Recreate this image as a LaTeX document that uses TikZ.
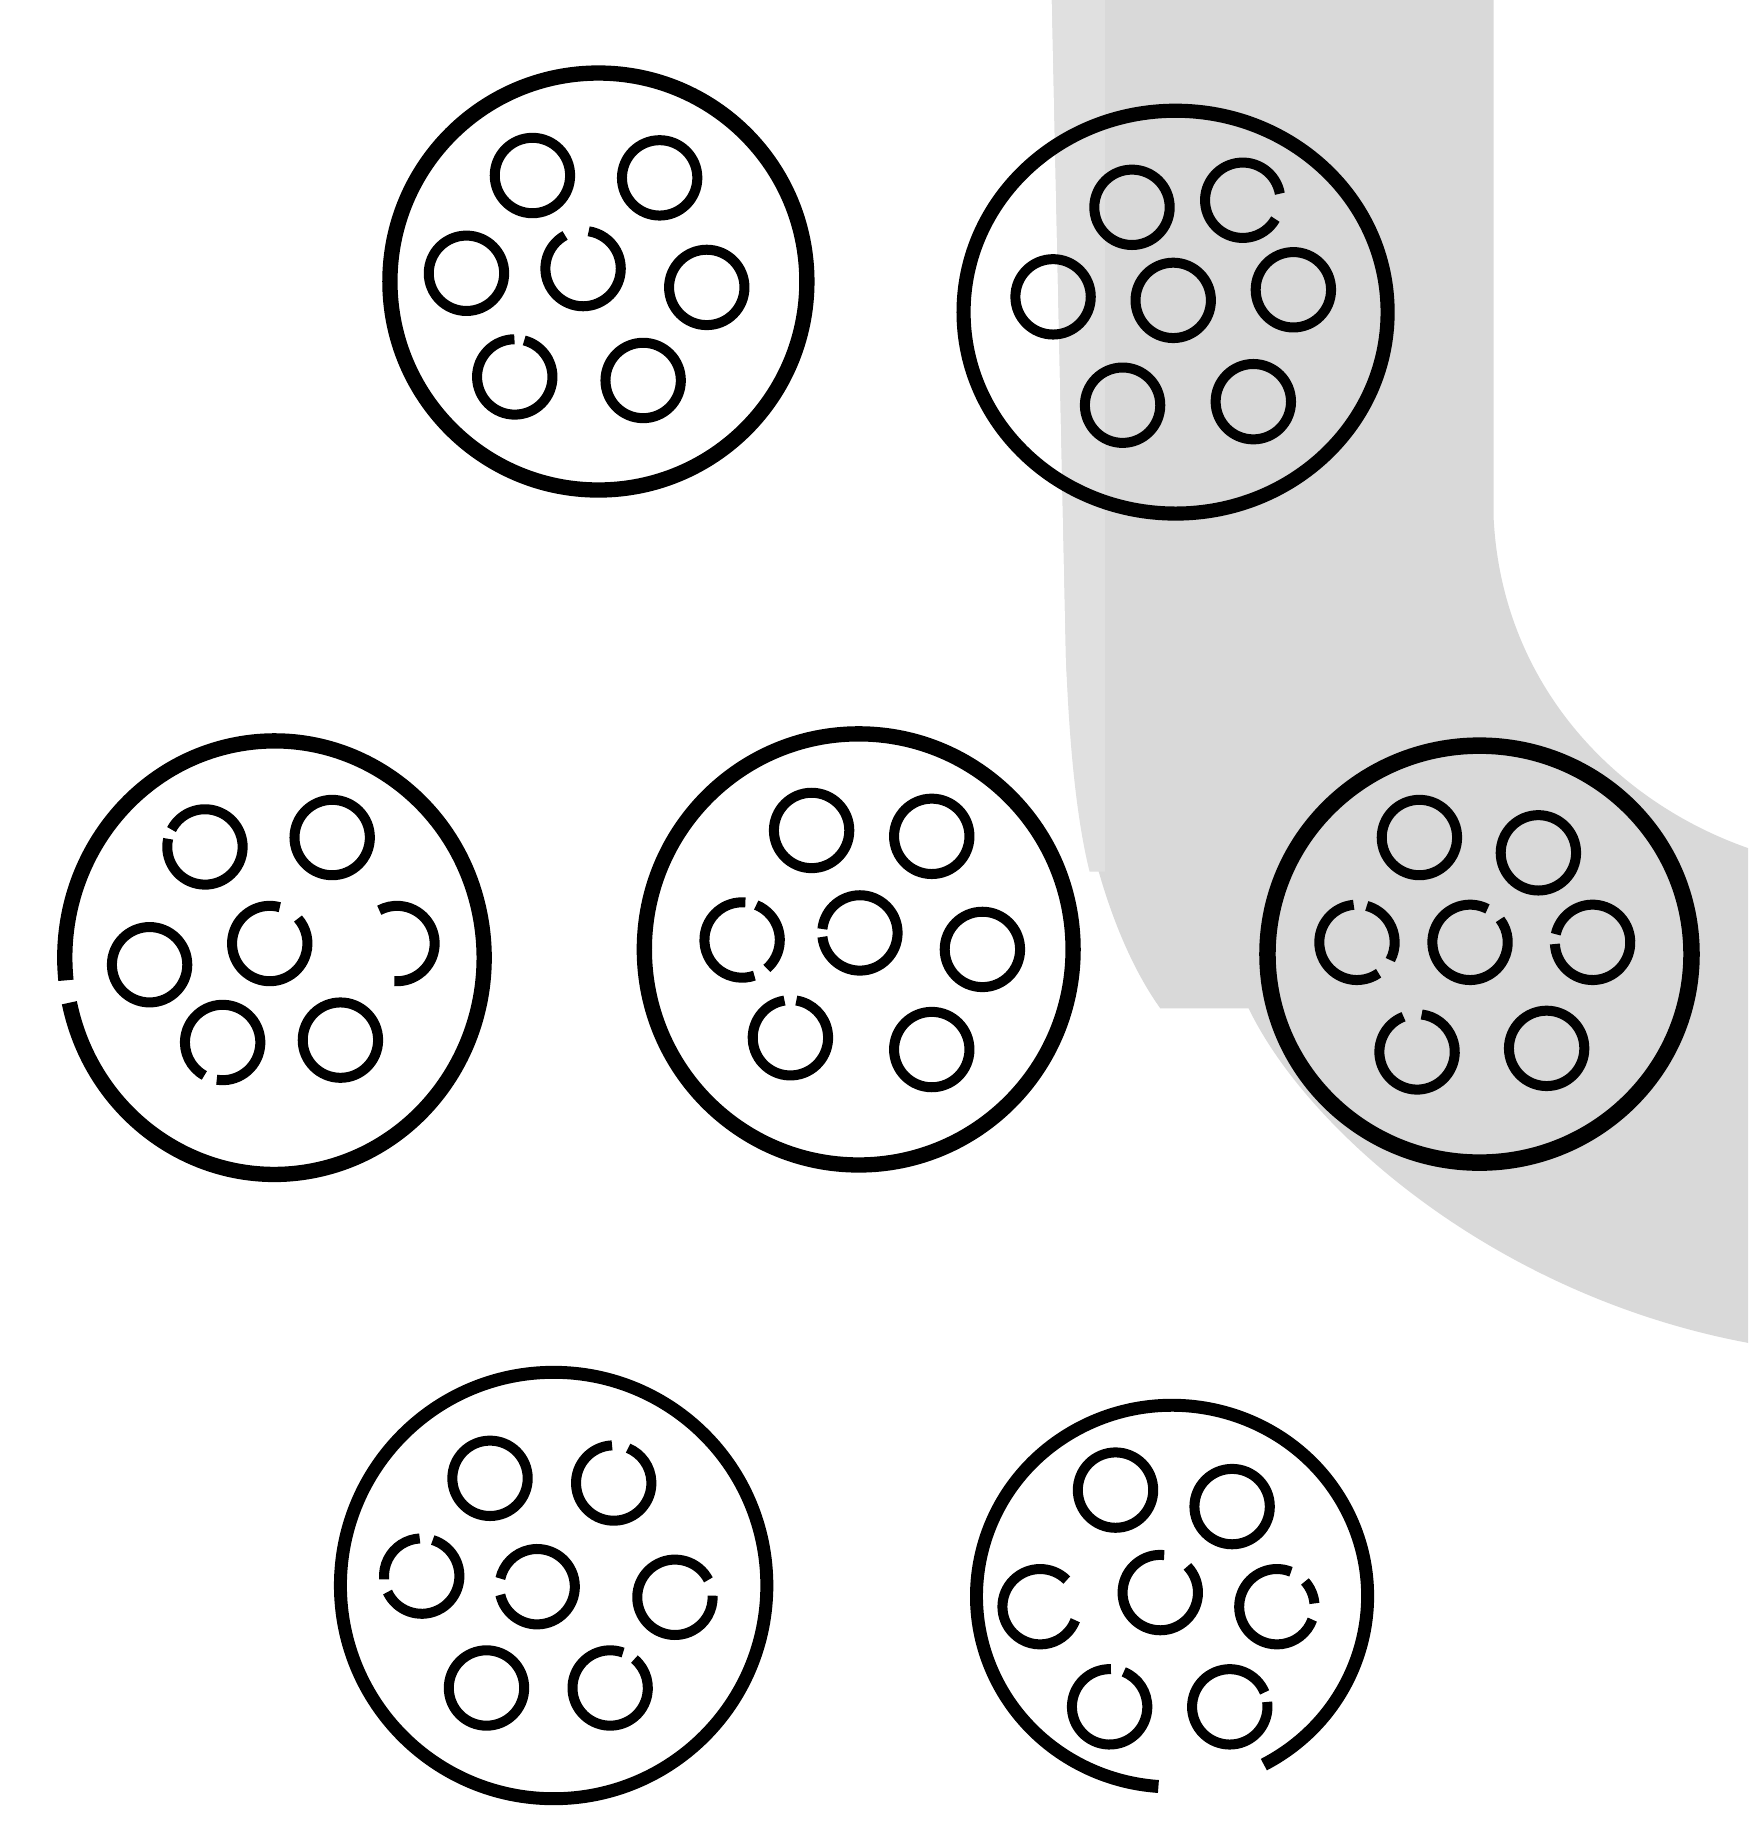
\documentclass[tikz,border=0pt]{standalone}

% small ring inside a cable, full or with gaps
\newcommand{\porerad}{32}
\newcommand{\pore}[2]{\draw[pore] (#1,#2) circle[radius=\porerad];}
\newcommand{\porearc}[4]{\draw[pore] ([shift={({-(#3)}:\porerad)}]#1,#2) arc[start angle={-(#3)}, end angle={-(#4)}, radius=\porerad];}
\newcommand{\gappore}[4]{\porearc{#1}{#2}{#3+#4/2}{#3+360-#4/2}}

\begin{document}
\begin{tikzpicture}[
        x=1pt, y=-1pt,
        rim/.style={draw=black, line width=13pt},
        pore/.style={draw=black, line width=8.5pt},
        band/.style={fill=black!15},
        bandlight/.style={fill=black!12}
    ]

    \useasboundingbox (0,0) rectangle (1484,1568);
    \fill[white] (0,0) rectangle (1484,1568);

    % =========================
    % Grey band
    % =========================
    \fill[band] (893,0) -- (905,560) .. controls (912,700) and (945,800) .. (985,856)
        -- (1060,856) .. controls (1110,960) and (1270,1100) .. (1484,1140)
        -- (1484,720) .. controls (1370,680) and (1275,580) .. (1268,440)
        -- (1268,0) -- cycle;
    \fill[bandlight] (893,0) -- (905,560) .. controls (908,640) and (915,700) .. (925,740)
        -- (938,740) -- (938,0) -- cycle;

    % =========================
    % Centres
    % =========================
    \coordinate (c1) at (508,239);
    \coordinate (c2) at (998,265);
    \coordinate (c3) at (233,813);
    \coordinate (c4) at (729,806);
    \coordinate (c5) at (1256,810);
    \coordinate (c6) at (470,1346);
    \coordinate (c7) at (995,1355);

    % =========================
    % Top row
    % =========================
    \draw[rim] (c1) ellipse[x radius=177, y radius=177];
    \pore{452}{149} \pore{560}{151}
    \pore{396}{232} \gappore{495}{228}{100}{37} \pore{600}{244}
    \gappore{437}{320}{83}{15} \pore{546}{323}

    \draw[rim, line width=12pt] (c2) ellipse[x radius=180, y radius=171];
    \pore{961}{176} \gappore{1055}{170}{-10}{40}
    \pore{894}{252} \pore{996}{255} \pore{1098}{246}
    \pore{953}{344} \pore{1064}{341}

    % =========================
    % Middle row
    % =========================
    \draw[rim] ([shift={(-192:178 and 184)}]c3) arc[start angle=-192, end angle=-546, x radius=178, y radius=184];
    \gappore{174}{719}{160}{15} \pore{282}{711}
    \pore{127}{819} \gappore{229}{801}{58}{33} \porearc{337}{801}{-94}{118}
    \gappore{189}{885}{251}{20} \pore{289}{883}

    \draw[rim] (c4) ellipse[x radius=182, y radius=183];
    \pore{689}{705} \pore{791}{710}
    \porearc{630}{798}{85}{289} \porearc{630}{798}{-49}{68}
    \gappore{730}{792}{180}{12} \pore{834}{806}
    \gappore{671}{881}{90}{18} \pore{791}{891}

    \draw[rim, line width=14pt] (c5) ellipse[x radius=180, y radius=177];
    \pore{1205}{711} \pore{1306}{724}
    \porearc{1152}{800}{95}{305} \porearc{1152}{800}{-28}{75}
    \gappore{1248}{800}{50}{25} \gappore{1352}{800}{175}{15}
    \gappore{1203}{893}{97}{28} \pore{1313}{890}

    % =========================
    % Bottom row
    % =========================
    \draw[rim, line width=11pt] (c6) ellipse[x radius=181, y radius=181];
    \pore{416}{1255} \gappore{521}{1259}{80}{25}
    \porearc{358}{1338}{93}{185} \porearc{358}{1338}{205}{433}
    \gappore{456}{1347}{180}{25} \gappore{573}{1356}{15}{25}
    \pore{413}{1433} \gappore{518}{1433}{60}{20}

    \draw[rim, line width=11pt] ([shift={(62:166 and 162)}]c7) arc[start angle=62, end angle=-266, x radius=166, y radius=162];
    \pore{947}{1265} \pore{1046}{1279}
    \gappore{883}{1364}{12}{66} \gappore{985}{1352}{64}{40}
    \porearc{1084}{1364}{68}{340} \porearc{1084}{1364}{5}{42}
    \gappore{942}{1449}{78}{20} \gappore{1044}{1449}{15}{15}

\end{tikzpicture}
\end{document}
